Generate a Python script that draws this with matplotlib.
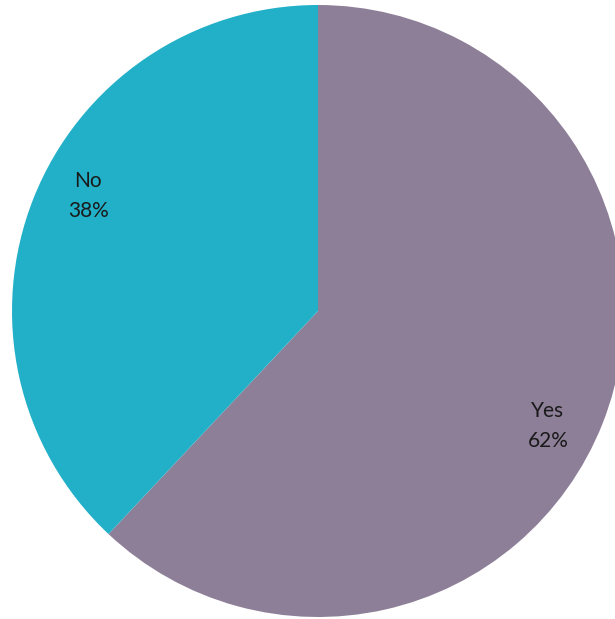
import numpy as np
import matplotlib.pyplot as plt

# datos del grafico
categorias = ['Yes', 'No']
porcentajes = [62, 38]
colores = ['#8d7f98', '#22b0c8']

fig = plt.figure(figsize=(6.15, 6.19), dpi=100)
ax = fig.add_axes([0, 0, 1, 1])

# etiquetas con categoria y porcentaje
etiquetas = [f'{c}\n{p}%' for c, p in zip(categorias, porcentajes)]

centro = (318, 308)
radio = 306
wedges, textos = ax.pie(porcentajes, labels=etiquetas, colors=colores,
                        startangle=90, counterclock=False,
                        center=centro, radius=radio,
                        labeldistance=0.84,
                        textprops={'fontsize': 15, 'family': 'Lato',
                                   'color': '#1a1a1a', 'linespacing': 1.6},
                        wedgeprops={'linewidth': 0})

# mover un poco las etiquetas como en el original
for w, t in zip(wedges, textos):
    ang = np.deg2rad((w.theta1 + w.theta2) / 2 - 5)
    t.set_position((centro[0] + 0.84 * radio * np.cos(ang),
                    centro[1] + 0.84 * radio * np.sin(ang)))
    t.set_horizontalalignment('center')
    t.set_verticalalignment('center')

ax.set_xlim(0, 615)
ax.set_ylim(0, 619)
ax.axis('off')

fig.savefig('out.png', dpi=100)
